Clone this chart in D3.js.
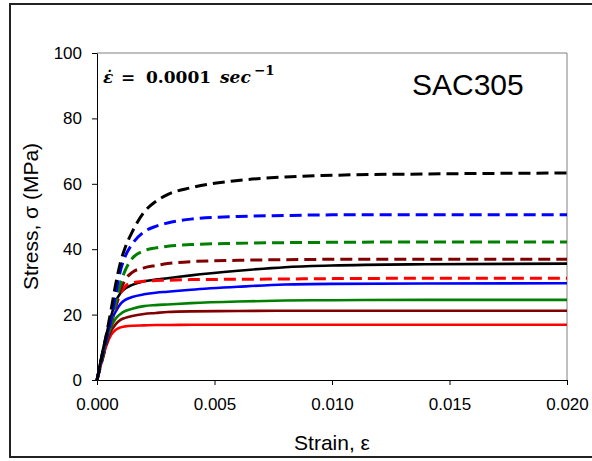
<!DOCTYPE html>
<html>
<head>
<meta charset="utf-8">
<script src="https://cdn.jsdelivr.net/npm/d3@7"></script>
<style>
  body { margin: 0; background: #fff; }
  text { font-family: Arial, "Liberation Sans", sans-serif; }
</style>
</head>
<body>
<svg></svg>
<script>
// strain points (shared by every curve)
const strain = [0, 0.0002, 0.0004, 0.0006, 0.0008, 0.001, 0.0012, 0.0015, 0.002,
  0.0025, 0.003, 0.004, 0.006, 0.008, 0.01, 0.014, 0.02];

// stress in MPa
const blackDash   = [0, 7, 14, 21.5, 29.5, 36, 40.5, 45.3, 51.3, 54.6, 56.7, 58.8, 61, 62.1, 62.6, 63, 63.3];
const blueDash    = [0, 6.5, 12.5, 18.5, 26.5, 33.5, 37.8, 41.6, 45.3, 47, 48, 49.2, 50, 50.3, 50.5, 50.5, 50.5];
const greenDash   = [0, 6, 12, 17.5, 23.5, 29.5, 33.5, 37.2, 39.5, 40.4, 40.9, 41.4, 41.8, 42, 42.1, 42.2, 42.2];
const darkredDash = [0, 5.5, 11, 17, 22.5, 27.5, 30.6, 32.9, 34.3, 35, 35.6, 36.2, 36.6, 36.8, 36.9, 36.9, 36.9];
const blackSolid  = [0, 7.5, 14, 19.5, 24, 26.6, 28, 29.1, 30.2, 30.7, 31.1, 32, 33.4, 34.5, 35, 35.4, 35.6];
const redDash     = [0, 6, 12, 17.5, 22.5, 26.5, 28.6, 29.7, 30.2, 30.4, 30.5, 30.7, 30.8, 30.9, 31, 31.1, 31.1];
const blueSolid   = [0, 7, 13, 18, 21, 23.3, 24.5, 25.4, 26.2, 26.7, 27, 27.6, 28.5, 29.2, 29.4, 29.5, 29.6];
const greenSolid  = [0, 6.5, 12, 16.2, 18.8, 20.2, 21.1, 21.8, 22.6, 22.9, 23.1, 23.5, 24, 24.3, 24.4, 24.5, 24.5];
const darkredSolid = [0, 6, 11.5, 15, 17.1, 18.4, 19, 19.6, 20.2, 20.5, 20.8, 21, 21.1, 21.2, 21.2, 21.2, 21.2];
const redSolid    = [0, 5.5, 10.5, 13.8, 15.4, 16.1, 16.4, 16.6, 16.7, 16.8, 16.8, 16.9, 16.9, 16.9, 16.9, 16.9, 16.9];

const xTicks = [0, 0.005, 0.01, 0.015, 0.02];
const yTicks = [0, 20, 40, 60, 80, 100];

const width = 592;
const height = 461;
const margin = {top: 53, right: 25, bottom: 81, left: 97};

const svg = d3.select('svg')
    .attr('width', width)
    .attr('height', height);

// outer frame (right edge runs off the picture)
svg.append('rect')
    .attr('x', 10)
    .attr('y', 4)
    .attr('width', 600)
    .attr('height', 453)
    .attr('fill', 'none')
    .attr('stroke', '#222')
    .attr('stroke-width', 2);

const xScale = d3.scaleLinear()
    .domain([0, 0.02])
    .range([margin.left, width - margin.right]);

const yScale = d3.scaleLinear()
    .domain([0, 100])
    .range([height - margin.bottom, margin.top]);

// plot area border: grey top and right
svg.append('path')
    .attr('d', `M${xScale(0)},${yScale(100)}H${xScale(0.02)}V${yScale(0)}`)
    .attr('fill', 'none')
    .attr('stroke', '#808080')
    .attr('stroke-width', 1);

const xAxis = d3.axisBottom(xScale)
    .tickValues(xTicks)
    .tickFormat(d3.format('.3f'))
    .tickSize(5)
    .tickSizeOuter(0)
    .tickPadding(13);

const yAxis = d3.axisLeft(yScale)
    .tickValues(yTicks)
    .tickSize(5)
    .tickSizeOuter(0)
    .tickPadding(10);

const gx = svg.append('g')
    .attr('transform', 'translate(0,' + yScale(0) + ')')
    .call(xAxis);

const gy = svg.append('g')
    .attr('transform', 'translate(' + xScale(0) + ',0)')
    .call(yAxis);

[gx, gy].forEach(g => {
  g.selectAll('text')
      .style('font-family', 'Arial, "Liberation Sans", sans-serif')
      .style('font-size', '17px')
      .attr('fill', '#000');
  g.selectAll('line, path').attr('stroke', '#000');
});

const series = [
  {values: redSolid,     color: '#ff0000', dashed: false},
  {values: darkredSolid, color: '#800000', dashed: false},
  {values: greenSolid,   color: '#008000', dashed: false},
  {values: blueSolid,    color: '#0000ff', dashed: false},
  {values: blackSolid,   color: '#000000', dashed: false},
  {values: redDash,      color: '#ff0000', dashed: true},
  {values: darkredDash,  color: '#800000', dashed: true},
  {values: greenDash,    color: '#008000', dashed: true},
  {values: blueDash,     color: '#0000ff', dashed: true},
  {values: blackDash,    color: '#000000', dashed: true}
];

const line = d3.line()
    .x((d, i) => xScale(strain[i]))
    .y(d => yScale(d))
    .curve(d3.curveMonotoneX);

svg.append('g')
    .selectAll('path')
    .data(series)
    .enter()
    .append('path')
    .attr('d', d => line(d.values))
    .attr('fill', 'none')
    .attr('stroke', d => d.color)
    .attr('stroke-width', d => d.dashed ? 3 : 2.6)
    .attr('stroke-dasharray', d => d.dashed ? '12,6' : null);

// annotations
svg.append('text')
    .attr('x', 412)
    .attr('y', 95)
    .style('font-size', '30px')
    .text('SAC305');

// strain rate label, spaced like the math-font original
function mathText(x, y, str, italic, size) {
  return svg.append('text')
      .attr('x', x)
      .attr('y', y)
      .style('font-family', '"DejaVu Serif", "Liberation Serif", serif')
      .style('font-weight', 'bold')
      .style('font-style', italic ? 'italic' : 'normal')
      .style('font-size', (size || 17) + 'px')
      .text(str);
}
mathText(103, 83, '\u03B5\u0307', true);
mathText(121, 83, '=', false);
mathText(146, 83, '0.0001', false);
mathText(220, 83, 'sec', true);
mathText(254, 75, '\u22121', false, 13.5);

svg.append('text')
    .attr('x', xScale(0.01))
    .attr('y', 450)
    .style('text-anchor', 'middle')
    .style('font-size', '21px')
    .text('Strain, \u03B5');

svg.append('text')
    .attr('transform', 'rotate(-90)')
    .attr('x', -(yScale(0) + yScale(100)) / 2)
    .attr('y', 38)
    .style('text-anchor', 'middle')
    .style('font-size', '21px')
    .text('Stress, \u03C3 (MPa)');
</script>
</body>
</html>
